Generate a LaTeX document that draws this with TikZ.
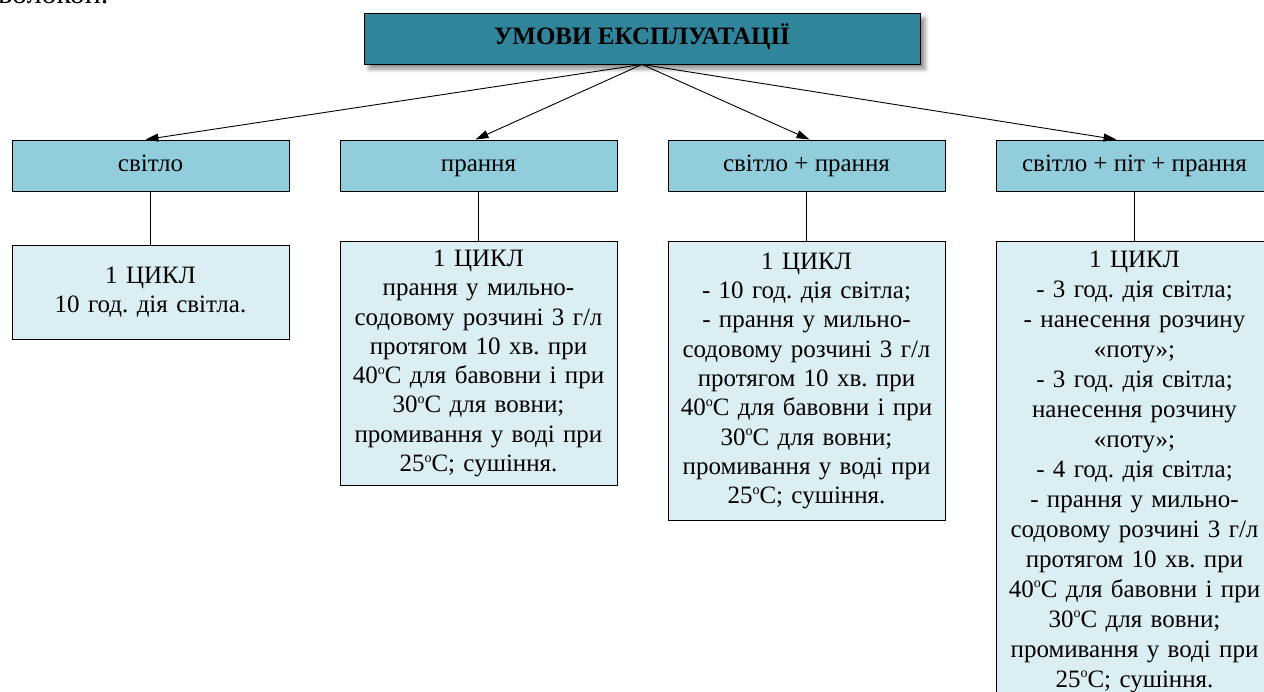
\documentclass[tikz,border=0pt]{standalone}
\usepackage{fontspec}
\setmainfont{Liberation Serif}
\usetikzlibrary{arrows.meta,calc,shadows.blur}
\definecolor{titlecol}{HTML}{31859B}
\definecolor{midcol}{HTML}{92CDDC}
\definecolor{detcol}{HTML}{DAEEF3}
\newcommand{\dg}{\raisebox{9.5pt}{\fontsize{14}{14}\selectfont o}}
\tikzset{
  basebox/.style={draw=black, line width=0.9pt, rectangle, inner sep=3pt, align=center,
    font=\fontsize{25}{29.3}\selectfont\frenchspacing},
  titlebox/.style={basebox, fill=titlecol, minimum width=556pt, minimum height=51pt,
    font=\fontsize{25}{29}\selectfont\bfseries, text height=17pt, text depth=5pt,
    blur shadow={shadow xshift=5pt, shadow yshift=-5pt, shadow blur radius=4pt, shadow opacity=45}},
  midbox/.style={basebox, fill=midcol, minimum width=277pt, minimum height=51pt,
    text height=17pt, text depth=6pt},
  detbox/.style={basebox, fill=detcol, minimum width=277pt, text width=271pt, anchor=north},
  conn/.style={line width=0.9pt, -{Triangle[length=13pt,width=8pt]}},
  vline/.style={line width=0.9pt}
}
\begin{document}
\begin{tikzpicture}
\useasboundingbox (0,0) rectangle (1264pt,-691pt);
\begin{scope}
\clip (0,0) rectangle (1264pt,-691pt);
\node[anchor=base west, inner sep=0pt, font=\fontsize{30}{36}\selectfont] (frag) at (-2pt,-3.5pt) {волокон.};

\node[titlebox] (t) at (642pt,-38.5pt) {УМОВИ ЕКСПЛУАТАЦІЇ};

\node[midbox] (m1) at (150.5pt,-165.5pt) {світло};
\node[midbox] (m2) at (478.5pt,-165.5pt) {прання};
\node[midbox] (m3) at (806.5pt,-165.5pt) {світло + прання};
\node[midbox] (m4) at (1134.5pt,-165.5pt) {світло + піт + прання};

\node[detbox, minimum height=94pt] (d1) at (150.5pt,-245pt) {1 ЦИКЛ\\10 год. дія світла.};
\node[detbox, minimum height=244pt] (d2) at (478.5pt,-241pt) {1 ЦИКЛ\\прання у мильно-\\содовому розчині 3 г/л\\протягом 10 хв. при\\40\dg C для бавовни і при\\30\dg C для вовни;\\промивання у воді при\\25\dg C; сушіння.};
\node[detbox, minimum height=279pt] (d3) at (806.5pt,-241pt) {1 ЦИКЛ\\- 10 год. дія світла;\\- прання у мильно-\\содовому розчині 3 г/л\\протягом 10 хв. при\\40\dg C для бавовни і при\\30\dg C для вовни;\\промивання у воді при\\25\dg C; сушіння.};
\node[detbox, minimum height=460pt, font=\fontsize{25}{30}\selectfont\frenchspacing] (d4) at (1134.5pt,-241pt) {1 ЦИКЛ\\- 3 год. дія світла;\\- нанесення розчину\\«поту»;\\- 3 год. дія світла;\\нанесення розчину\\«поту»;\\- 4 год. дія світла;\\- прання у мильно-\\содовому розчині 3 г/л\\протягом 10 хв. при\\40\dg C для бавовни і при\\30\dg C для вовни;\\промивання у воді при\\25\dg C; сушіння.};

\draw[conn] (t.south) -- ($(m1.north)+(-5pt,0)$);
\draw[conn] (t.south) -- ($(m2.north)+(-3pt,0)$);
\draw[conn] (t.south) -- ($(m3.north)+(3pt,0)$);
\draw[conn] (t.south) -- ($(m4.north)+(-18pt,0)$);

\draw[vline] (m1.south) -- (d1.north);
\draw[vline] (m2.south) -- (d2.north);
\draw[vline] (m3.south) -- (d3.north);
\draw[vline] (m4.south) -- (d4.north);
\end{scope}
\end{tikzpicture}
\end{document}
